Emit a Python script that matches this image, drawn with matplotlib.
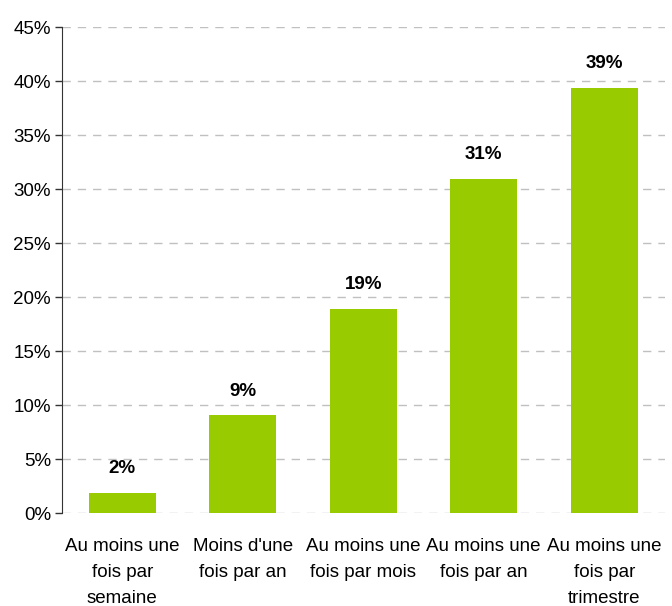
import matplotlib
matplotlib.use('Agg')
import matplotlib.pyplot as plt
from matplotlib.ticker import PercentFormatter

plt.rcParams['font.family'] = ['Liberation Sans Narrow', 'Liberation Sans', 'DejaVu Sans']

categories = ['Au moins une\nfois par\nsemaine', "Moins d'une\nfois par an",
              'Au moins une\nfois par mois', 'Au moins une\nfois par an',
              'Au moins une\nfois par\ntrimestre']
values = [1.85, 9.05, 18.9, 30.95, 39.35]
labels = ['2%', '9%', '19%', '31%', '39%']

fig = plt.figure(figsize=(6.72, 6.06), dpi=100)
ax = fig.add_axes([62 / 672, 93 / 606, 602.5 / 672, 486 / 606])

x = range(len(categories))
ax.bar(x, values, width=0.56, color='#99CC00', zorder=3)
for xi, v, lab in zip(x, values, labels):
    ax.text(xi, v + 1.45, lab, ha='center', va='bottom', fontsize=13.5,
            fontweight='bold', color='black')

ax.set_xlim(-0.5, 4.5)
ax.set_ylim(0, 45)
ax.set_yticks(range(0, 46, 5))
ax.yaxis.set_major_formatter(PercentFormatter(decimals=0))
ax.set_xticks(list(x))
ax.set_xticklabels(categories, fontsize=13.5, linespacing=1.7)
ax.tick_params(axis='x', length=0, pad=18)
ax.tick_params(axis='y', labelsize=13.5, length=5, width=1, color='#333333', pad=3)

ax.grid(axis='y', color='#C0C0C0', linestyle=(0, (6, 5)), linewidth=1, zorder=0)
for s in ['top', 'right', 'bottom']:
    ax.spines[s].set_visible(False)
ax.spines['left'].set_color('#333333')

plt.savefig('out.png', dpi=100)
